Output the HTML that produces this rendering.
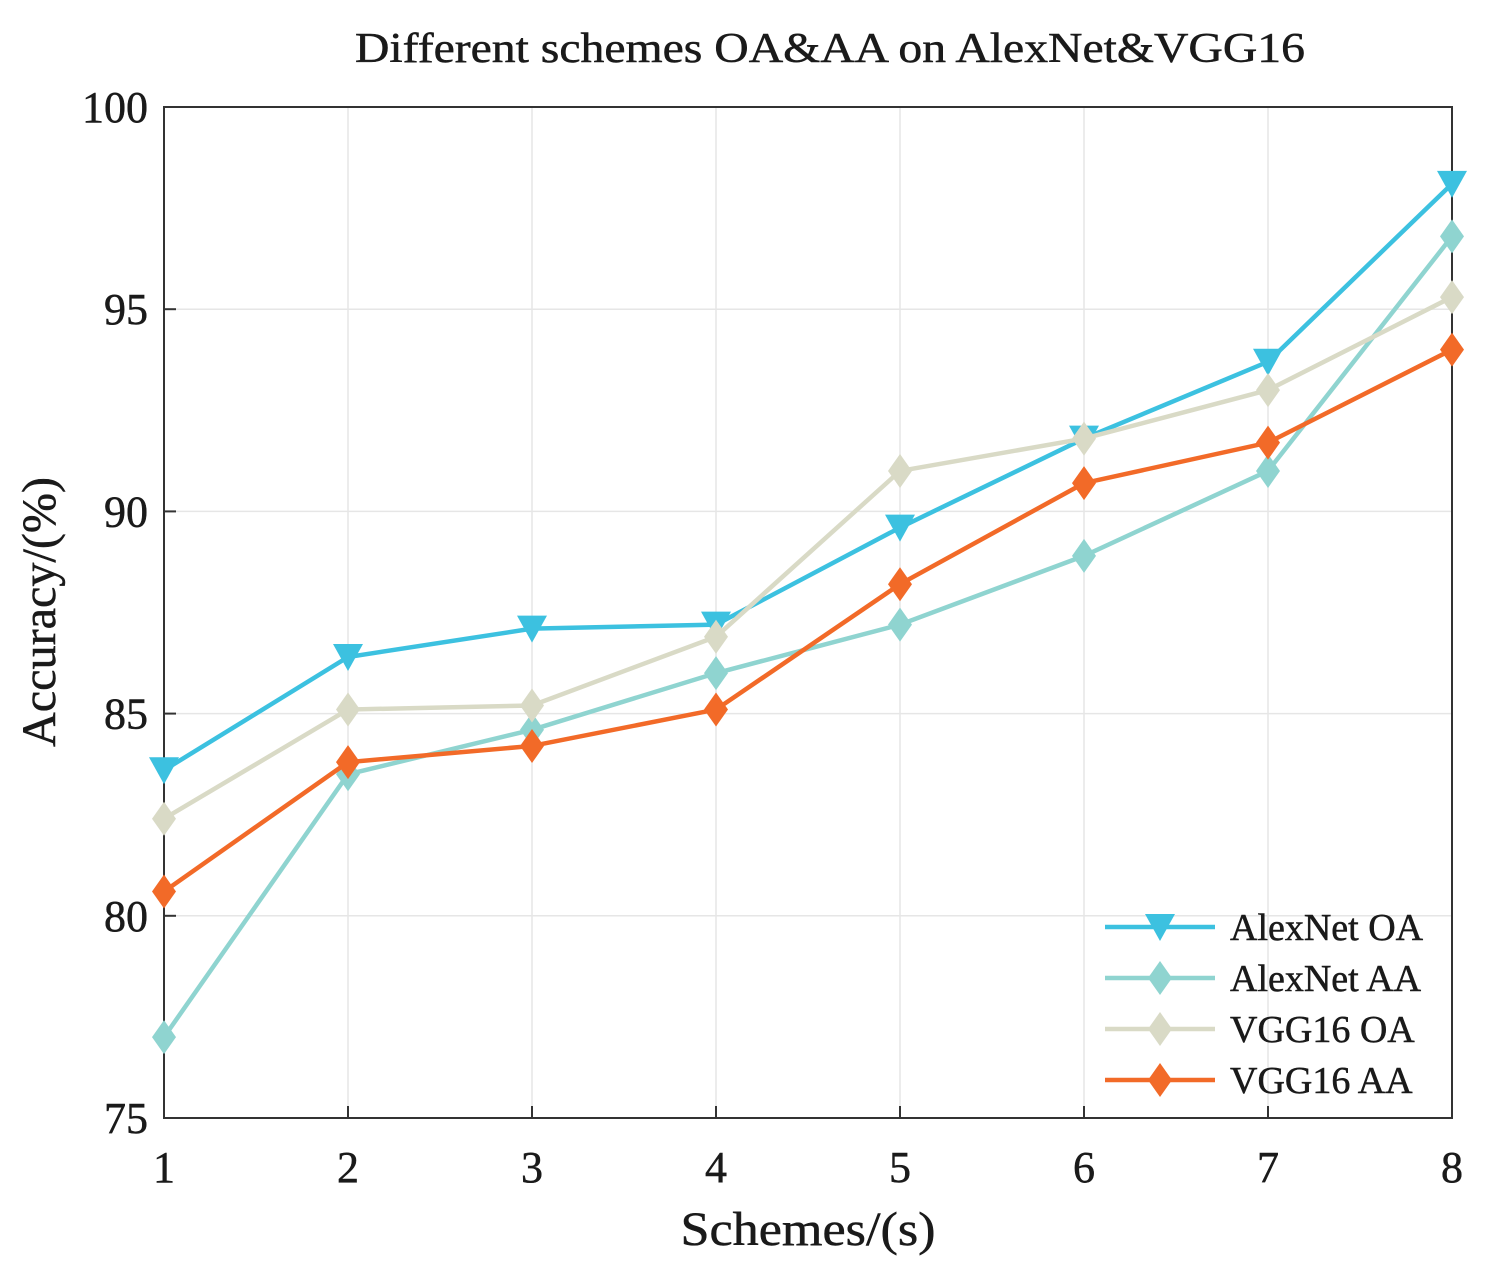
<!DOCTYPE html>
<html><head><meta charset="utf-8"><style>
body{margin:0;background:#fff;}
svg text{font-family:"Liberation Serif",serif;fill:#1a1a1a;stroke:#1a1a1a;stroke-width:0.5;}
</style></head><body>
<svg id="chart" width="1492" height="1266">
<text x="830" y="62" font-size="42" text-anchor="middle" textLength="950" lengthAdjust="spacingAndGlyphs">Different schemes OA&amp;AA on AlexNet&amp;VGG16</text>
<text x="808" y="1245" font-size="48" text-anchor="middle" textLength="255" lengthAdjust="spacingAndGlyphs">Schemes/(s)</text>
<text transform="translate(55,612) rotate(-90)" font-size="48" text-anchor="middle" textLength="270" lengthAdjust="spacingAndGlyphs">Accuracy/(%)</text>
<g id="grid"></g><g id="axes"></g><g id="series"></g><g id="legend"></g>
</svg>
<script>
const categories=[1,2,3,4,5,6,7,8];
const yTicks=[75,80,85,90,95,100];
const seriesNames=["AlexNet OA","AlexNet AA","VGG16 OA","VGG16 AA"];
const alexOA=[83.6,86.4,87.1,87.2,89.6,91.8,93.7,98.1];
const alexAA=[77.0,83.5,84.6,86.0,87.2,88.9,91.0,96.8];
const vggOA=[82.4,85.1,85.2,86.9,91.0,91.8,93.0,95.3];
const vggAA=[80.6,83.8,84.2,85.1,88.2,90.7,91.7,94.0];
const colors=["#3cc1e0","#8fd4d0","#d9dac6","#f26a28"];
const markers=["tri","dia","dia","dia"];
const L=164,R=1452,T=107,B=1118;
const xs=v=>L+(v-1)/7*(R-L);
const ys=v=>B-(v-75)/25*(B-T);
const NS="http://www.w3.org/2000/svg";
function mk(tag,attrs,parent){const e=document.createElementNS(NS,tag);for(const k in attrs)e.setAttribute(k,attrs[k]);parent.appendChild(e);return e;}
const grid=document.getElementById('grid'),axes=document.getElementById('axes'),ser=document.getElementById('series'),leg=document.getElementById('legend');
categories.forEach(c=>{const l=mk('line',{x1:xs(c),x2:xs(c),y1:T,y2:B,stroke:'#e6e6e6','stroke-width':1.5},grid);

const t=mk('text',{x:xs(c),y:B+64,'font-size':44,'text-anchor':'middle'},axes);t.textContent=c;

mk('line',{x1:xs(c),x2:xs(c),y1:B,y2:B-12,stroke:'#333','stroke-width':2},axes);});
yTicks.forEach(v=>{const l=mk('line',{x1:L,x2:R,y1:ys(v),y2:ys(v),stroke:'#e6e6e6','stroke-width':1.5},grid);

const t=mk('text',{x:L-16,y:ys(v)+15,'font-size':44,'text-anchor':'end'},axes);t.textContent=v;

mk('line',{x1:L,x2:L+12,y1:ys(v),y2:ys(v),stroke:'#333','stroke-width':2},axes);});
const box=mk('rect',{x:L,y:T,width:R-L,height:B-T,fill:'none',stroke:'#333','stroke-width':2},axes);

function marker(g,type,x,y,col){
 if(type==='tri')return mk('polygon',{points:`${x-15},${y-13} ${x+15},${y-13} ${x},${y+14}`,fill:col},g);
 return mk('polygon',{points:`${x},${y-17} ${x+12},${y} ${x},${y+17} ${x-12},${y}`,fill:col},g);}
[alexOA,alexAA,vggOA,vggAA].forEach((data,i)=>{
 const g=mk('g',{},ser);
 
 
 mk('polyline',{points:data.map((v,j)=>xs(categories[j])+','+ys(v)).join(' '),fill:'none',stroke:colors[i],'stroke-width':4.5},g);
 data.forEach((v,j)=>{const m=marker(g,markers[i],xs(categories[j]),ys(v),colors[i]);
  });
 const ly=927+i*51;
 const lg=mk('g',{},leg);
 
 mk('line',{x1:1105,x2:1215,y1:ly,y2:ly,stroke:colors[i],'stroke-width':4.5},lg);
 marker(lg,markers[i],1160,ly,colors[i]);
 const t=mk('text',{x:1230,y:ly+13,'font-size':38},lg);t.textContent=seriesNames[i];
});
</script>
</body></html>
